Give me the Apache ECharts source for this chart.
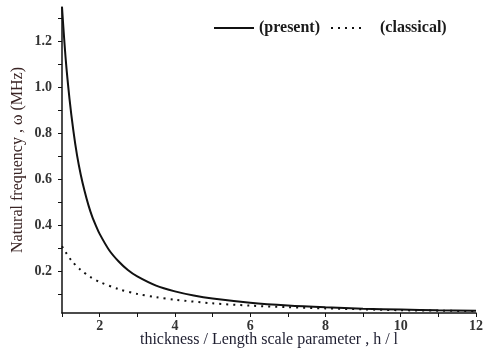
<!DOCTYPE html>
<html>
<head>
<meta charset="utf-8">
<script src="https://cdn.jsdelivr.net/npm/echarts@6/dist/echarts.min.js"></script>
<style>
html, body { margin: 0; padding: 0; background: #fff; }
#main { width: 487px; height: 352px; }
</style>
</head>
<body>
<div id="main"></div>
<script>
var myChart = echarts.init(document.getElementById('main'));

// h / l values and natural frequency (MHz)
var hPresent = [1, 1.1, 1.2, 1.3, 1.4, 1.5, 1.6, 1.7, 1.8, 1.9, 2, 2.25, 2.5, 2.75, 3, 3.5, 4, 4.5, 5, 6, 7, 8, 9, 10, 11, 12];
var present = [1.35, 1.12, 0.95, 0.815, 0.705, 0.62, 0.55, 0.49, 0.44, 0.4, 0.364, 0.294, 0.245, 0.207, 0.179, 0.139, 0.114, 0.096, 0.083, 0.065, 0.053, 0.045, 0.039, 0.035, 0.032, 0.03];
var hClassical = [1, 1.25, 1.5, 1.75, 2, 2.5, 3, 3.5, 4, 5, 6, 7, 8, 9, 10, 11, 12];
var classical = [0.31, 0.248, 0.207, 0.177, 0.155, 0.124, 0.103, 0.089, 0.078, 0.062, 0.052, 0.045, 0.04, 0.036, 0.032, 0.03, 0.028];
var yTicks = [0.1, 0.2, 0.3, 0.4, 0.5, 0.6, 0.7, 0.8, 0.9, 1.0, 1.1, 1.2, 1.3];
var yLabels = [0.2, 0.4, 0.6, 0.8, 1.0, 1.2];

function pairs(xs, ys) {
    var out = [];
    for (var i = 0; i < xs.length; i++) {
        out.push([xs[i], ys[i]]);
    }
    return out;
}

var serif = '"Liberation Serif", "DejaVu Serif", serif';
var legendText = {
    fontFamily: serif,
    fontSize: 16,
    fontWeight: 'bold',
    color: '#1a1a1a'
};

var option = {
    backgroundColor: '#fff',
    animation: false,
    grid: {
        left: 62,
        right: 11,
        top: 7,
        bottom: 39,
        outerBoundsMode: 'none'
    },
    legend: [{
        left: 213,
        top: 20,
        padding: 0,
        itemWidth: 40,
        itemHeight: 14,
        itemStyle: { opacity: 0 },
        textStyle: legendText,
        data: ['(present)']
    }, {
        left: 330,
        top: 20,
        padding: 0,
        itemWidth: 31,
        itemHeight: 14,
        itemStyle: { opacity: 0 },
        textStyle: Object.assign({ padding: [0, 0, 0, 13] }, legendText),
        data: ['(classical)']
    }],
    xAxis: {
        type: 'value',
        min: 1,
        max: 12,
        interval: 1,
        name: 'thickness / Length scale parameter , h / l',
        nameLocation: 'middle',
        nameGap: 19,
        nameMoveOverlap: false,
        nameTextStyle: {
            fontFamily: serif,
            fontSize: 16,
            color: '#1e1e30'
        },
        axisLine: { lineStyle: { color: '#111', width: 1.5 } },
        axisTick: { length: 4, lineStyle: { color: '#111' } },
        axisLabel: {
            margin: 6,
            fontFamily: serif,
            fontSize: 14,
            fontWeight: 'bold',
            color: '#333',
            formatter: function (v) {
                return v % 2 === 0 ? String(v) : '';
            }
        },
        splitLine: { show: false }
    },
    yAxis: {
        type: 'value',
        min: 0.02,
        max: 1.35,
        name: 'Natural frequency , ω (MHz)',
        nameLocation: 'middle',
        nameGap: 36,
        nameMoveOverlap: false,
        nameTextStyle: {
            fontFamily: serif,
            fontSize: 16,
            color: '#3a2424'
        },
        axisLine: { lineStyle: { color: '#111', width: 1.5 } },
        axisTick: {
            length: 4,
            lineStyle: { color: '#111' },
            customValues: yTicks
        },
        axisLabel: {
            margin: 10,
            fontFamily: serif,
            fontSize: 14,
            fontWeight: 'bold',
            color: '#333',
            customValues: yLabels,
            formatter: function (v) {
                return v.toFixed(1);
            }
        },
        splitLine: { show: false }
    },
    series: [{
        name: '(present)',
        type: 'line',
        data: pairs(hPresent, present),
        smooth: 0.3,
        showSymbol: false,
        symbol: 'none',
        clip: true,
        lineStyle: { color: '#111', width: 2 },
        itemStyle: { color: '#111' }
    }, {
        name: '(classical)',
        type: 'line',
        data: pairs(hClassical, classical),
        smooth: 0.3,
        showSymbol: false,
        symbol: 'none',
        clip: true,
        lineStyle: { color: '#111', width: 2, type: [2, 5] },
        itemStyle: { color: '#111' }
    }]
};
myChart.setOption(option);
</script>
</body>
</html>
